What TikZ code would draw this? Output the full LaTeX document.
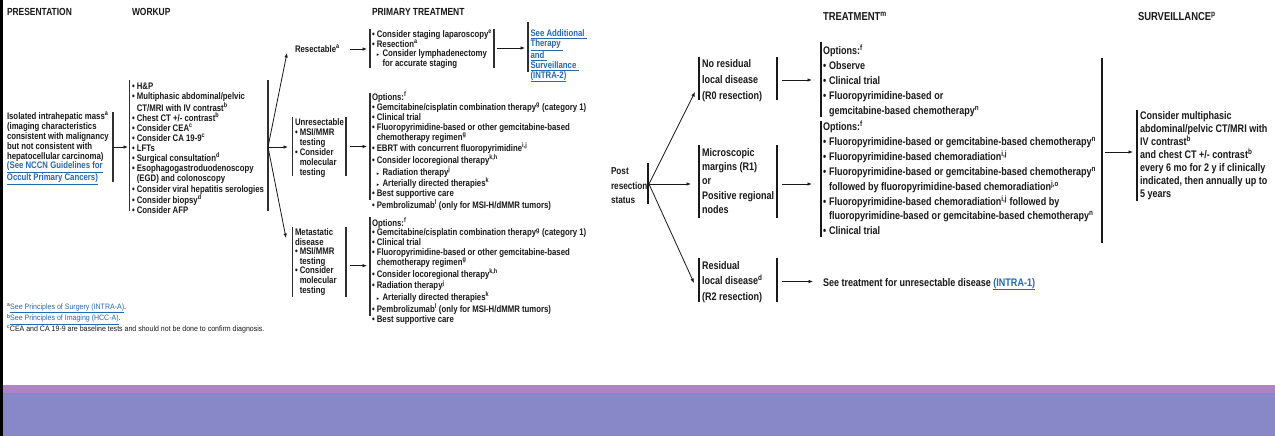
\documentclass[tikz,border=0pt]{standalone}
\usepackage{fontspec}
\setmainfont{Liberation Sans}[FakeStretch=0.82]
\newfontfamily\notefont{Liberation Sans}[FakeStretch=0.9]
\newfontfamily\symfont{DejaVu Sans}
\usetikzlibrary{arrows.meta}

\definecolor{ink}{RGB}{25,25,25}
\definecolor{linkblue}{RGB}{35,105,175}
\definecolor{bandtop}{RGB}{174,132,196}
\definecolor{bandbody}{RGB}{136,136,200}

% text blocks: the node's base anchor is the first baseline
\newcommand\blockL[2][9.9]{\parbox[t]{420pt}{\raggedright\bfseries\fontsize{9.5}{#1}\selectfont #2}}
\newcommand\blockR[3][11]{\parbox[t]{420pt}{\raggedright\bfseries\fontsize{#1}{#2}\selectfont #3}}
\newcommand\lnk[1]{{\color{linkblue}\underline{#1}}}
\newcommand\sups[1]{\textsuperscript{#1}}
\newcommand\Lbul{\makebox[4.8pt][l]{•}}
\newcommand\Lind{\hspace*{4.8pt}}
\newcommand\Ltri{\makebox[5.8pt][l]{\symfont\fontsize{5}{5}\selectfont ▸}}
\newcommand\Rbul{\makebox[6pt][l]{•}}
\newcommand\Rind{\hspace*{6pt}}

\tikzset{
  txt/.style={anchor=base west, inner sep=0pt, outer sep=0pt, text=ink},
  hdrL/.style={txt, font=\bfseries\fontsize{10.3}{12}\selectfont},
  hdrR/.style={txt, font=\bfseries\fontsize{11.5}{13}\selectfont},
  barL/.style={draw=ink!90, line width=1.1pt},
  barR/.style={draw=ink, line width=1.2pt},
  arr/.style={draw=ink, line width=0.8pt, -{Latex[length=4.5pt,width=3.6pt]}},
}

\begin{document}
\begin{tikzpicture}[x=1pt,y=-1pt]
\useasboundingbox (0,0) rectangle (1275,436);
\fill[white] (0,0) rectangle (1275,436);

% ---------------- initial workup and primary treatment ----------------
\node[hdrL] (hPres) at (7,16) {PRESENTATION};
\node[hdrL] (hWork) at (132,16) {WORKUP};
\node[hdrL] (hPrim) at (372,16) {PRIMARY TREATMENT};

\node[txt] (pres) at (7,119.5) {\blockL{Isolated intrahepatic mass\sups{a}\\(imaging characteristics\\consistent with malignancy\\but not consistent with\\hepatocellular carcinoma)\\\lnk{(See NCCN Guidelines for}\\\lnk{Occult Primary Cancers)}}};
\draw[barL] (113,112) -- (113,182);

\node[txt] (work) at (132,89.5) {\blockL[10.1]{\Lbul H\&P\\
\Lbul Multiphasic abdominal/pelvic\\
\Lind CT/MRI with IV contrast\sups{b}\\
\Lbul Chest CT +/- contrast\sups{b}\\
\Lbul Consider CEA\sups{c}\\
\Lbul Consider CA 19-9\sups{c}\\
\Lbul LFTs\\
\Lbul Surgical consultation\sups{d}\\
\Lbul Esophagogastroduodenoscopy\\
\Lind (EGD) and colonoscopy\\
\Lbul Consider viral hepatitis serologies\\
\Lbul Consider biopsy\sups{d}\\
\Lbul Consider AFP}};
\draw[barL] (129.5,80) -- (129.5,211);
\draw[barL] (268,80) -- (268,211);

\node[txt] (resLbl) at (295,52.5) {\blockL{Resectable\sups{a}}};
\node[txt] (resBox) at (372,37.5) {\blockL[9.7]{\Lbul Consider staging laparoscopy\sups{e}\\
\Lbul Resection\sups{a}\\
\Lind\Ltri Consider lymphadenectomy\\
\Lind\hspace*{5.8pt}for accurate staging}};
\draw[barL] (370,29) -- (370,68);
\draw[barL] (494,29) -- (494,68);

\node[txt] (resLink) at (530.5,29.5) {\blockL[10]{\lnk{See Additional }\\\lnk{Therapy }\\\lnk{and }\\\lnk{Surveillance }\\\lnk{(INTRA-2)}}};
\draw[barL] (528,22) -- (528,72);

\node[txt] (unres) at (295,125.5) {\blockL[10]{Unresectable\\\Lbul MSI/MMR\\\Lind testing\\\Lbul Consider\\\Lind molecular\\\Lind testing}};
\draw[barL] (292.3,117) -- (292.3,176);
\draw[barL] (346,117) -- (346,176);

\node[txt] (unresOpt) at (372,100.5) {\blockL{Options:\sups{f}\\
\Lbul Gemcitabine/cisplatin combination therapy\sups{g} (category 1)\\
\Lbul Clinical trial\\
\Lbul Fluoropyrimidine-based or other gemcitabine-based\\
\Lind chemotherapy regimen\sups{g}\\
\Lbul EBRT with concurrent fluoropyrimidine\sups{i,j}\\
\Lbul Consider locoregional therapy\sups{k,h}\\
\Lind\Ltri Radiation therapy\sups{j}\\
\Lind\Ltri Arterially directed therapies\sups{k}\\
\Lbul Best supportive care\\
\Lbul Pembrolizumab\sups{l} (only for MSI-H/dMMR tumors)}};
\draw[barL] (370,93) -- (370,200);

\node[txt] (meta) at (295,235.5) {\blockL[9.6]{Metastatic\\disease\\\Lbul MSI/MMR\\\Lind testing\\\Lbul Consider\\\Lind molecular\\\Lind testing}};
\draw[barL] (292.3,227) -- (292.3,297);
\draw[barL] (346,227) -- (346,297);

\node[txt] (metaOpt) at (372,226) {\blockL{Options:\sups{f}\\
\Lbul Gemcitabine/cisplatin combination therapy\sups{g} (category 1)\\
\Lbul Clinical trial\\
\Lbul Fluoropyrimidine-based or other gemcitabine-based\\
\Lind chemotherapy regimen\sups{g}\\
\Lbul Consider locoregional therapy\sups{k,h}\\
\Lbul Radiation therapy\sups{j}\\
\Lind\Ltri Arterially directed therapies\sups{k}\\
\Lbul Pembrolizumab\sups{l} (only for MSI-H/dMMR tumors)\\
\Lbul Best supportive care}};
\draw[barL] (370,217) -- (370,316);

\node[txt] (notes) at (7,309.5) {\parbox[t]{420pt}{\raggedright\notefont\fontsize{7.8}{10.3}\selectfont
\sups{a}\lnk{See Principles of Surgery (INTRA-A)}.\\
\sups{b}\lnk{See Principles of Imaging (HCC-A)}.\\
\sups{c}CEA and CA 19-9 are baseline tests and should not be done to confirm diagnosis.}};

% connectors of the workup page
\coordinate (presOut) at (113,147);
\coordinate (workIn) at (128,147);
\coordinate (workOut) at (268,147);
\coordinate (resIn) at (287,53);
\coordinate (unresIn) at (288,147);
\coordinate (metaIn) at (286,238);
\coordinate (resLblOut) at (350,49);
\coordinate (resBoxIn) at (367,49);
\coordinate (resBoxOut) at (497,48);
\coordinate (resLinkIn) at (525,48);
\coordinate (unresOut) at (350,146.5);
\coordinate (unresOptIn) at (367,146.5);
\coordinate (metaOut) at (350,265.7);
\coordinate (metaOptIn) at (367,265.7);

\draw[arr] (presOut) -- (workIn);
\draw[arr] (workOut) -- (resIn);
\draw[arr] (workOut) -- (unresIn);
\draw[arr] (workOut) -- (metaIn);
\draw[arr] (resLblOut) -- (resBoxIn);
\draw[arr] (resBoxOut) -- (resLinkIn);
\draw[arr] (unresOut) -- (unresOptIn);
\draw[arr] (metaOut) -- (metaOptIn);

% ---------------- adjuvant treatment and surveillance ----------------
\node[hdrR] (hTreat) at (823,21) {TREATMENT\sups{m}};
\node[hdrR] (hSurv) at (1138,21) {SURVEILLANCE\sups{p}};

\node[txt] (post) at (611,174.5) {\blockR[10]{14.5}{Post\\resection\\status}};
\draw[barR] (648,163) -- (648,204);

\node[txt] (rzero) at (702,67.5) {\blockR{16}{No residual\\local disease\\(R0 resection)}};
\draw[barR] (699,57) -- (699,100);
\draw[barR] (777,57) -- (777,100);

\node[txt] (rzeroOpt) at (823,54.5) {\blockR{15}{Options:\sups{f}\\
\Rbul Observe\\
\Rbul Clinical trial\\
\Rbul Fluoropyrimidine-based or\\
\Rind gemcitabine-based chemotherapy\sups{n}}};
\draw[barR] (821,42) -- (821,117);

\node[txt] (rone) at (702,156.5) {\blockR{14.2}{Microscopic\\margins (R1)\\or\\Positive regional\\nodes}};
\draw[barR] (699,145) -- (699,218);
\draw[barR] (777,145) -- (777,218);

\node[txt] (roneOpt) at (823,130.5) {\blockR{14.9}{Options:\sups{f}\\
\Rbul Fluoropyrimidine-based or gemcitabine-based chemotherapy\sups{n}\\
\Rbul Fluoropyrimidine-based chemoradiation\sups{i,j}\\
\Rbul Fluoropyrimidine-based or gemcitabine-based chemotherapy\sups{n}\\
\Rind followed by fluoropyrimidine-based chemoradiation\sups{j,o}\\
\Rbul Fluoropyrimidine-based chemoradiation\sups{i,j} followed by\\
\Rind fluoropyrimidine-based or gemcitabine-based chemotherapy\sups{n}\\
\Rbul Clinical trial}};
\draw[barR] (821,121) -- (821,237);
\draw[barR] (1102,58) -- (1102,243);

\node[txt] (surv) at (1140,119.5) {\blockR{13}{Consider multiphasic\\abdominal/pelvic CT/MRI with\\IV contrast\sups{b}\\and chest CT +/- contrast\sups{b}\\every 6 mo for 2 y if clinically\\indicated, then annually up to\\5 years}};
\draw[barR] (1137,110) -- (1137,201);

\node[txt] (rtwo) at (702,269.5) {\blockR{15.3}{Residual\\local disease\sups{d}\\(R2 resection)}};
\draw[barR] (699,258) -- (699,302);
\draw[barR] (777,258) -- (777,302);

\node[txt] (rtwoNext) at (823,286) {\blockR{14.8}{See treatment for unresectable disease \lnk{(INTRA-1)}}};

% connectors of the adjuvant page
\coordinate (postOut) at (649,184);
\coordinate (rzeroIn) at (695,92);
\coordinate (roneIn) at (691,184);
\coordinate (rtwoIn) at (694,283);
\coordinate (rzeroOut) at (782,80);
\coordinate (rzeroOptIn) at (812,80);
\coordinate (roneOut) at (782,184);
\coordinate (roneOptIn) at (812,184);
\coordinate (rtwoOut) at (782,281.5);
\coordinate (rtwoNextIn) at (813,281.5);
\coordinate (treatOut) at (1105,152);
\coordinate (survIn) at (1133,152);

\draw[arr] (postOut) -- (rzeroIn);
\draw[arr] (postOut) -- (roneIn);
\draw[arr] (postOut) -- (rtwoIn);
\draw[arr] (rzeroOut) -- (rzeroOptIn);
\draw[arr] (roneOut) -- (roneOptIn);
\draw[arr] (rtwoOut) -- (rtwoNextIn);
\draw[arr] (treatOut) -- (survIn);

% ---------------- footer band and page edge ----------------
\fill[bandtop] (0,385) rectangle (1275,393);
\fill[bandbody] (0,393) rectangle (1275,436);
\fill[black] (0,0) rectangle (2.5,436);
\end{tikzpicture}
\end{document}
